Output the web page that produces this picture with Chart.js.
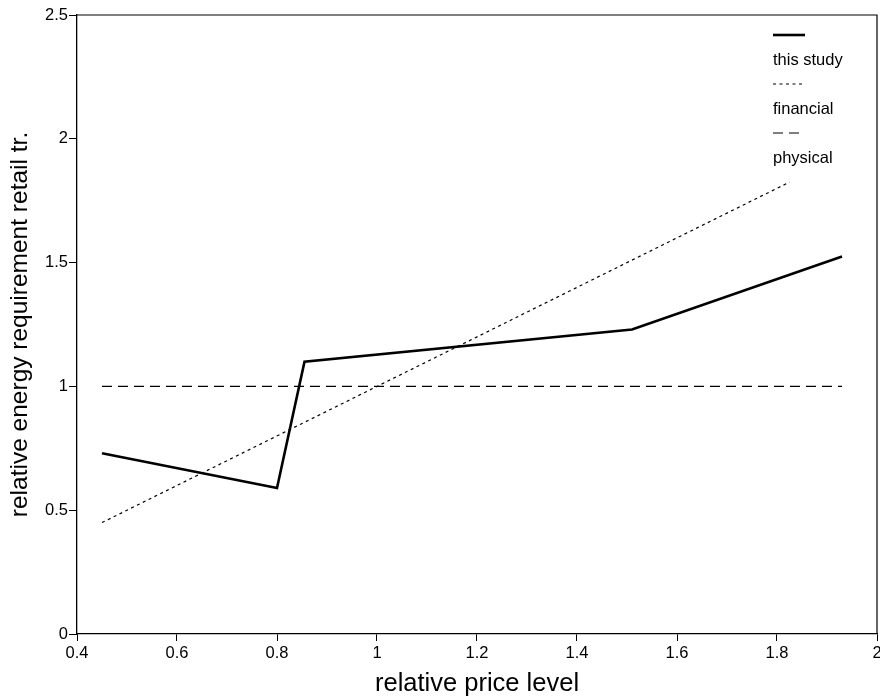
<!DOCTYPE html>
<html>
<head>
<meta charset="utf-8">
<script src="https://cdn.jsdelivr.net/npm/chart.js@4"></script>
<style>
html, body { margin: 0; padding: 0; background: #fff; }
</style>
</head>
<body>
<canvas id="grafica" width="880" height="700"></canvas>
<script>
const nombresSeries = ['this study', 'financial', 'physical']
const estudioX = [0.45, 0.80, 0.855, 1.51, 1.93]
const estudioY = [0.73, 0.59, 1.10, 1.23, 1.525]
const financieroX = [0.45, 1.825]
const financieroY = [0.45, 1.825]
const fisicoX = [0.45, 1.93]
const fisicoY = [1, 1]
const ticksX = [0.4, 0.6, 0.8, 1, 1.2, 1.4, 1.6, 1.8, 2]
const ticksY = [0, 0.5, 1, 1.5, 2, 2.5]

const fuente = '"Liberation Sans", Arial, Helvetica, sans-serif'
const puntos = (xs, ys) => xs.map((x, i) => ({ x: x, y: ys[i] }))

// marco superior y derecho
const marco = {
    id: 'marco',
    afterDraw(chart) {
        const { ctx, chartArea: a } = chart
        ctx.save()
        ctx.strokeStyle = '#000'
        ctx.lineWidth = 1.2
        ctx.beginPath()
        ctx.moveTo(a.left, a.top)
        ctx.lineTo(a.right, a.top)
        ctx.lineTo(a.right, a.bottom)
        ctx.stroke()
        ctx.restore()
    }
}

// leyenda: muestra de linea arriba, texto abajo
const leyenda = {
    id: 'leyenda',
    afterDraw(chart) {
        const { ctx, chartArea: a } = chart
        const x0 = a.right - 104
        chart.data.datasets.forEach((ds, i) => {
            const y0 = a.top + 20 + i * 49
            ctx.save()
            ctx.strokeStyle = '#000'
            ctx.lineWidth = ds.borderWidth
            ctx.setLineDash(ds.borderDash || [])
            ctx.beginPath()
            ctx.moveTo(x0, y0)
            ctx.lineTo(x0 + 32, y0)
            ctx.stroke()
            ctx.setLineDash([])
            ctx.fillStyle = '#000'
            ctx.font = '16.5px ' + fuente
            ctx.textBaseline = 'alphabetic'
            ctx.fillText(ds.label, x0, y0 + 30)
            ctx.restore()
        })
    }
}

const $grafica = document.querySelector('#grafica')
new Chart($grafica, {
    type: 'scatter',
    data: {
        datasets: [{
            label: nombresSeries[0],
            data: puntos(estudioX, estudioY),
            showLine: true,
            borderColor: '#000',
            borderWidth: 2.6,
            pointRadius: 0
        }, {
            label: nombresSeries[1],
            data: puntos(financieroX, financieroY),
            showLine: true,
            borderColor: '#000',
            borderWidth: 1.2,
            borderDash: [3, 3.5],
            pointRadius: 0
        }, {
            label: nombresSeries[2],
            data: puntos(fisicoX, fisicoY),
            showLine: true,
            borderColor: '#000',
            borderWidth: 1.2,
            borderDash: [10, 6],
            pointRadius: 0
        }]
    },
    options: {
        responsive: false,
        animation: false,
        layout: { padding: { top: 15, right: 3, left: 0, bottom: 0 } },
        plugins: {
            legend: { display: false },
            tooltip: { enabled: false }
        },
        scales: {
            x: {
                type: 'linear',
                min: 0.4,
                max: 2,
                afterBuildTicks: s => { s.ticks = ticksX.map(v => ({ value: v })) },
                afterFit: s => { s.height = 66; s.paddingLeft = 0; s.paddingRight = 0 },
                ticks: {
                    color: '#000',
                    font: { family: fuente, size: 16.5 },
                    padding: 3,
                    maxRotation: 0,
                    autoSkip: false,
                    callback: v => String(v)
                },
                grid: { drawOnChartArea: false, drawTicks: true, tickLength: 7, color: '#000', lineWidth: 1 },
                border: { display: true, color: '#000', width: 1.3 },
                title: {
                    display: true,
                    text: 'relative price level',
                    color: '#000',
                    font: { family: fuente, size: 25.5, lineHeight: 1.25 },
                    padding: 0
                }
            },
            y: {
                type: 'linear',
                min: 0,
                max: 2.5,
                afterBuildTicks: s => { s.ticks = ticksY.map(v => ({ value: v })) },
                afterFit: s => { s.width = 77; s.paddingTop = 0; s.paddingBottom = 0 },
                ticks: {
                    color: '#000',
                    font: { family: fuente, size: 16.5 },
                    padding: 1,
                    autoSkip: false,
                    callback: v => String(v)
                },
                grid: { drawOnChartArea: false, drawTicks: true, tickLength: 8, color: '#000', lineWidth: 1 },
                border: { display: true, color: '#000', width: 1.3 },
                title: {
                    display: true,
                    text: 'relative energy requirement retail tr.',
                    color: '#000',
                    font: { family: fuente, size: 24.5, lineHeight: 1.25 },
                    padding: { top: 5 }
                }
            }
        }
    },
    plugins: [marco, leyenda]
})
</script>
</body>
</html>
